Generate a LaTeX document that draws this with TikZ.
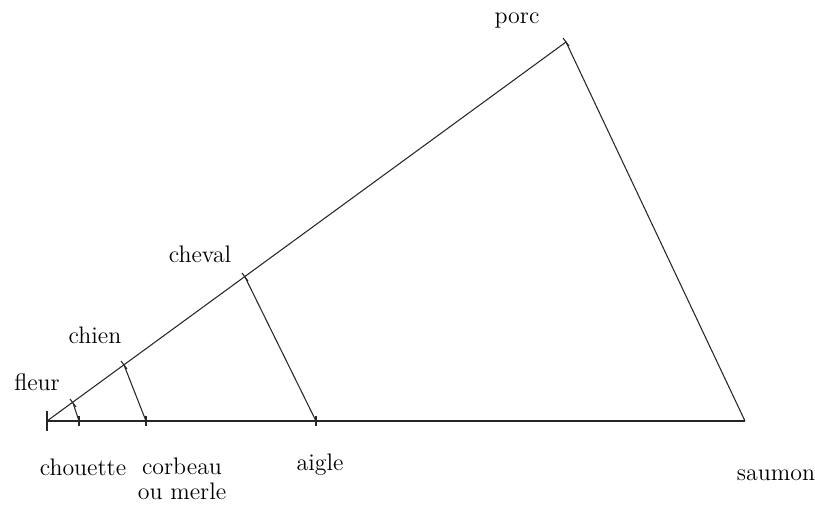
\documentclass[tikz,border=0pt]{standalone}
\usepackage{tikz}
\usetikzlibrary{calc}

\begin{document}
\begin{tikzpicture}[x=0.02cm,y=-0.02cm,
    trait/.style={line width=0.6pt,black!85},
    base/.style={line width=0.9pt,black!85},
    etiq/.style={font=\fontsize{13.6}{14}\selectfont,align=center,inner sep=0pt}]

    \useasboundingbox (0,0) rectangle (815,504);

    % Sommets du triangle
    \coordinate (fleur)  at (47,421);
    \coordinate (porc)   at (566,42);
    \coordinate (saumon) at (745,421);

    % Points sur les deux cotes
    \foreach \nom/\x/\y in {pA/73/403, pB/124/365, pC/245/277}{
      \coordinate (\nom) at (\x,\y);
    }
    \foreach \nom/\x in {qA/79, qB/146, qC/316}{
      \coordinate (\nom) at (\x,421);
    }

    % Triangle
    \draw[trait] (fleur) -- (porc) -- (saumon);
    \draw[base] (fleur) -- (saumon);

    % Segments
    \draw[trait] (pA) -- (qA);
    \draw[trait] (pB) -- (qB);
    \draw[trait] (pC) -- (qC);

    % Graduations
    \draw[trait] ($(fleur)+(0,-10)$) -- ($(fleur)+(0,10)$);
    \foreach \p in {qA,qB,qC}{
      \draw[trait] ($(\p)+(0,-5)$) -- ($(\p)+(0,5)$);
    }
    \foreach \p in {pA,pB,pC,porc}{
      \draw[trait] ($(\p)+(-3,-4)$) -- ($(\p)+(3,4)$);
    }

    % Etiquettes
    \node[etiq] (lfleur)  at (37,382)  {fleur};
    \node[etiq] (lchien)  at (95,335)  {chien};
    \node[etiq] (lcheval) at (200,254) {cheval};
    \node[etiq] (lporc)   at (517,20)  {porc};
    \node[etiq] (lchou)   at (83,467)  {chouette};
    \node[etiq] (lcorb)   at (182,479) {corbeau\\ou merle};
    \node[etiq] (laigle)  at (320,465) {aigle};
    \node[etiq] (lsaum)   at (776,475) {saumon};

\end{tikzpicture}
\end{document}
